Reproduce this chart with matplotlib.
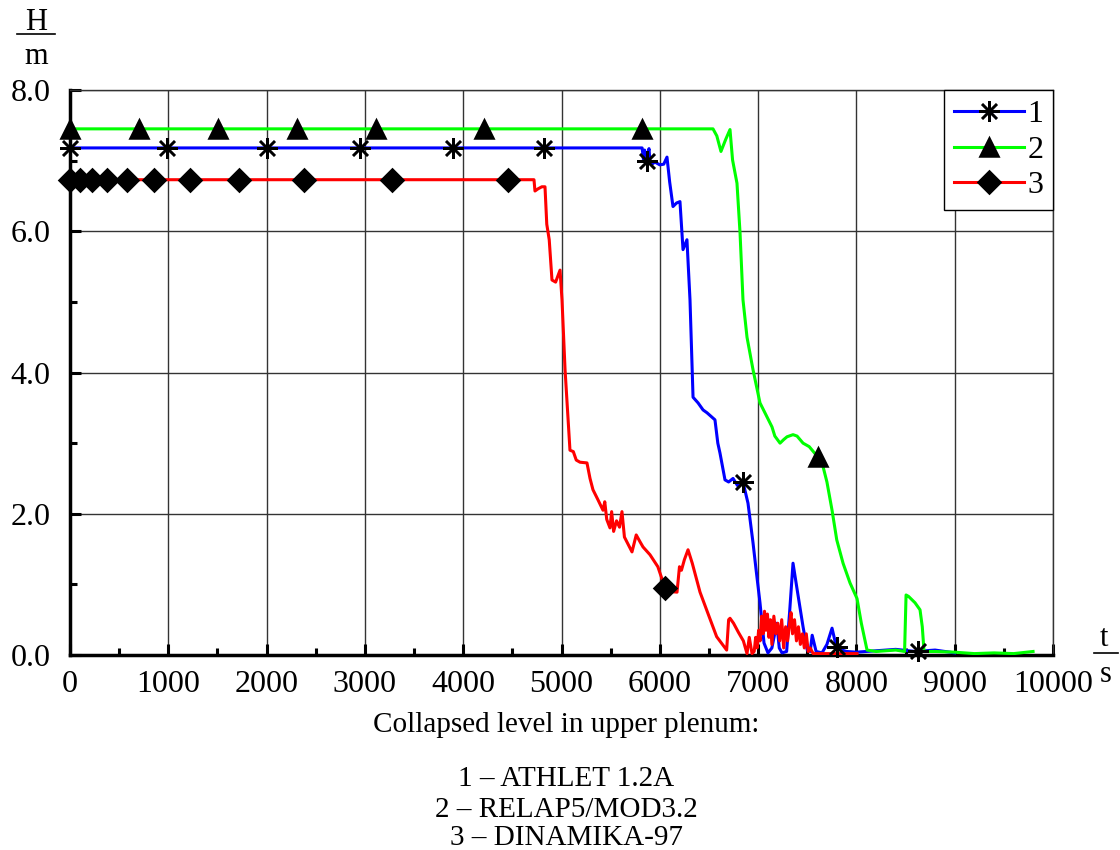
"""Collapsed level in upper plenum: ATHLET / RELAP5 / DINAMIKA comparison."""

import matplotlib
matplotlib.use("Agg")
import matplotlib.pyplot as plt
from matplotlib.lines import Line2D
import numpy as np

plt.rcParams["font.family"] = ["Liberation Serif", "DejaVu Serif"]

# 1 - ATHLET 1.2A
t_athlet = [0, 5820, 5835, 5845, 5855, 5870, 5890, 5900, 5920, 5950, 6000, 6040,
            6073, 6100, 6134, 6170, 6205, 6236, 6276, 6307, 6338, 6389, 6440, 6480,
            6561, 6590, 6612, 6663, 6700, 6745, 6790, 6846, 6897, 6948, 6980, 7019,
            7060, 7100, 7140, 7190, 7215, 7243, 7290, 7320, 7355, 7400, 7457, 7500,
            7530, 7550, 7590, 7650, 7700, 7752, 7790, 7830, 7900, 8000, 8200, 8400,
            8600, 8800, 9000]
h_athlet = [7.18, 7.18, 7.0, 7.15, 6.98, 7.05, 7.17, 6.98, 6.95, 6.98, 6.94, 6.95,
            7.05, 6.7, 6.35, 6.4, 6.42, 5.74, 5.88, 5.03, 3.65, 3.57, 3.47, 3.43,
            3.33, 3.0, 2.86, 2.48, 2.45, 2.5, 2.4, 2.45, 2.15, 1.59, 1.2, 0.74,
            0.17, 0.03, 0.1, 0.45, 0.1, 0.03, 0.05, 0.6, 1.3, 0.9, 0.4, 0.07,
            0.05, 0.28, 0.05, 0.03, 0.15, 0.38, 0.15, 0.08, 0.05, 0.04, 0.06, 0.08,
            0.05, 0.07, 0.03]
mt_athlet = [0, 990, 2000, 2950, 3900, 4820, 5870, 6850, 7800, 8630]
mh_athlet = [7.18, 7.18, 7.18, 7.18, 7.18, 7.18, 7.0, 2.45, 0.11, 0.06]

# 2 - RELAP5/MOD3.2
t_relap = [0, 6541, 6580, 6622, 6670, 6714, 6740, 6785, 6816, 6846, 6887, 6948,
           7019, 7080, 7141, 7170, 7223, 7260, 7294, 7355, 7396, 7457, 7520, 7580,
           7610, 7660, 7700, 7752, 7800, 7864, 7935, 8006, 8050, 8108, 8200, 8300,
           8400, 8490, 8505, 8530, 8596, 8647, 8670, 8688, 8800, 9000, 9200, 9400,
           9600, 9797]
h_relap = [7.45, 7.45, 7.35, 7.13, 7.3, 7.44, 7.01, 6.68, 5.98, 5.03, 4.5, 4.04,
           3.57, 3.4, 3.23, 3.1, 3.0, 3.05, 3.09, 3.12, 3.1, 3.0, 2.95, 2.85,
           2.81, 2.67, 2.45, 2.05, 1.63, 1.3, 1.02, 0.8, 0.45, 0.07, 0.05, 0.06,
           0.07, 0.05, 0.85, 0.83, 0.74, 0.64, 0.4, 0.05, 0.05, 0.04, 0.02, 0.03,
           0.02, 0.05]
mt_relap = [0, 702, 1505, 2309, 3113, 4212, 5819, 7610]
mh_relap = [7.45, 7.45, 7.45, 7.45, 7.45, 7.45, 7.45, 2.81]

# 3 - DINAMIKA-97
t_dinamika = [0, 4720, 4730, 4760, 4800, 4832, 4850, 4875, 4903, 4940, 4985, 5005,
              5036, 5086, 5120, 5150, 5188, 5259, 5290, 5320, 5370, 5422, 5440, 5460,
              5493, 5510, 5530, 5560, 5590, 5615, 5640, 5717, 5760, 5800, 5829, 5900,
              5980, 6053, 6100, 6175, 6200, 6220, 6250, 6287, 6330, 6409, 6500, 6578,
              6680, 6700, 6714, 6750, 6800, 6850, 6887, 6910, 6938,
              6960, 6975, 6990, 7005, 7020, 7035, 7050, 7065, 7080, 7095, 7110, 7125,
              7140, 7160, 7180, 7200, 7220, 7240, 7260, 7280, 7300, 7320, 7335, 7350,
              7370, 7390, 7410, 7430, 7450, 7470, 7490, 7510, 7530, 7560, 8006]
h_dinamika = [6.73, 6.73, 6.57, 6.6, 6.63, 6.63, 6.1, 5.88, 5.31, 5.28, 5.45, 5.03,
              4.04, 2.9, 2.88, 2.76, 2.73, 2.72, 2.5, 2.34, 2.2, 2.05, 2.17, 1.92,
              1.8, 2.03, 1.75, 1.9, 1.81, 2.03, 1.67, 1.46, 1.7, 1.6, 1.53, 1.42,
              1.25, 0.95, 0.9, 0.89, 1.25, 1.2, 1.35, 1.49, 1.3, 0.89, 0.55, 0.26,
              0.07, 0.5, 0.52, 0.45, 0.32, 0.2, 0.02, 0.25, 0.02,
              0.05, 0.25, 0.1, 0.35, 0.2, 0.55, 0.3, 0.62, 0.35, 0.58, 0.25, 0.5,
              0.15, 0.55, 0.3, 0.45, 0.2, 0.5, 0.1, 0.4, 0.2, 0.45, 0.6, 0.3,
              0.5, 0.2, 0.4, 0.15, 0.3, 0.1, 0.3, 0.05, 0.1, 0.02, 0.02]
mt_dinamika = [0, 100, 224, 376, 580, 855, 1221, 1719, 2380, 3276, 4456, 6053]
mh_dinamika = [6.73] * 11 + [0.95]

series = [
    ("1", t_athlet, h_athlet, mt_athlet, mh_athlet, "#0000ff", (8, 2, 0), 15),
    ("2", t_relap, h_relap, mt_relap, mh_relap, "#00ff00", "^", 13),
    ("3", t_dinamika, h_dinamika, mt_dinamika, mh_dinamika, "#ff0000", "D", 11),
]

fig = plt.figure(figsize=(11.2, 8.5), dpi=100)
ax = fig.add_axes([0.0625, 0.2294, 0.8777, 0.6647])

handles = []
for label, t, h, mt, mh, color, marker, ms in series:
    ax.plot(t, h, color=color, lw=2.2, zorder=3)
    ax.plot(mt, mh, ls="none", marker=marker, ms=ms, color="black",
            mec="black", mew=1.8, zorder=4, clip_on=False)
    handles.append(Line2D([], [], color=color, lw=2.2, marker=marker, ms=ms,
                          mfc="black", mec="black", mew=1.8, label=label))

ax.set_xlim(0, 10000)
ax.set_ylim(0, 8)
ax.set_xticks(np.arange(0, 10001, 1000))
ax.set_xticks(np.arange(0, 10001, 500), minor=True)
ax.set_yticks(np.arange(0, 8.1, 2))
ax.set_yticks(np.arange(0, 8.1, 1), minor=True)
ax.set_yticklabels([f"{v:.1f}" for v in np.arange(0, 8.1, 2)])
ax.grid(True, which="major", color="#333333", lw=1.0, zorder=1)
ax.tick_params(which="major", direction="in", length=8, width=2.2,
               labelsize=23)
ax.tick_params(which="minor", direction="in", length=5, width=2.2)
ax.tick_params(axis="x", which="major", pad=11)
ax.tick_params(axis="y", which="major", pad=14)

for side in ("left", "bottom"):
    ax.spines[side].set_linewidth(2.5)
for side in ("top", "right"):
    ax.spines[side].set_linewidth(1.0)
    ax.spines[side].set_color("#333333")

leg = ax.legend(handles=handles, loc="upper right", borderaxespad=0,
                fontsize=23, handlelength=2.2, handletextpad=0.1,
                labelspacing=0.2, borderpad=0.3, fancybox=False,
                framealpha=1, edgecolor="black")
leg.get_frame().set_linewidth(1.0)

# axis labels as fractions
fig.text(36 / 1120, 1 - 22 / 850, "H", ha="center", va="center", fontsize=22)
fig.text(36 / 1120, 1 - 57 / 850, "m", ha="center", va="center", fontsize=22)
fig.add_artist(Line2D([17 / 1120, 55 / 1120], [1 - 34 / 850, 1 - 34 / 850],
                      color="black", lw=1.2))
fig.text(1104 / 1120, 1 - 638 / 850, "t", ha="center", va="center", fontsize=22)
fig.text(1106 / 1120, 1 - 674 / 850, "s", ha="center", va="center", fontsize=22)
fig.add_artist(Line2D([1094 / 1120, 1118 / 1120], [1 - 653 / 850, 1 - 653 / 850],
                      color="black", lw=1.2))

caption = ["Collapsed level in upper plenum:", "1 – ATHLET 1.2A",
           "2 – RELAP5/MOD3.2", "3 – DINAMIKA-97"]
caption_y = [725, 779, 810, 838]
for text, y in zip(caption, caption_y):
    fig.text(566 / 1120, 1 - y / 850, text, ha="center", va="center", fontsize=21)

fig.savefig("out.png", dpi=100)
